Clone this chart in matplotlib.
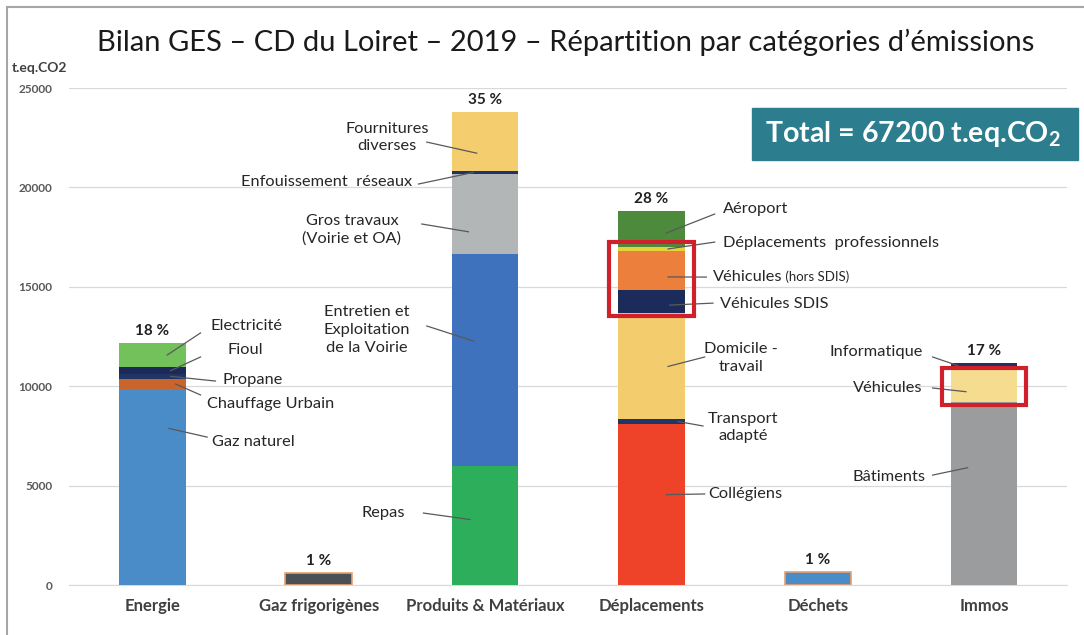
import matplotlib.pyplot as plt
from matplotlib.patches import Rectangle

plt.rcParams['font.family'] = ['Lato', 'DejaVu Sans']
plt.rcParams['mathtext.fontset'] = 'custom'
plt.rcParams['mathtext.rm'] = 'Lato'

# --- data (t.eq.CO2), stacked from bottom to top ---
categories = ['Energie', 'Gaz frigorigènes', 'Produits & Matériaux',
              'Déplacements', 'Déchets', 'Immos']
percents = ['18 %', '1 %', '35 %', '28 %', '1 %', '17 %']

energie_labels = ['Gaz naturel', 'Chauffage Urbain', 'Propane', 'Fioul', 'Electricité']
energie_values = [9850, 530, 230, 340, 1240]

frigo_labels = ['Gaz frigorigènes']
frigo_values = [600]

produits_labels = ['Repas', 'Entretien et\nExploitation\nde la Voirie',
                   'Gros travaux\n(Voirie et OA)', 'Enfouissement  réseaux',
                   'Fournitures\ndiverses']
produits_values = [5990, 10650, 4030, 170, 2940]

depl_labels = ['Collégiens', 'Transport\nadapté', 'Domicile -\ntravail',
               'Véhicules SDIS', 'Véhicules', 'Déplacements  professionnels',
               'Aéroport']
depl_values = [8120, 210, 5330, 1200, 1930, 230, 1810]

dechets_labels = ['Déchets']
dechets_values = [640]

immos_labels = ['Bâtiments', 'Véhicules', 'Informatique']
immos_values = [9220, 1680, 280]

total = 67200

# colours per segment
energie_colors = ['#4A8CC8', '#C9652A', '#1F3566', '#1B2A58', '#72C15B']
frigo_colors = ['#4B5056']
produits_colors = ['#2DAE5B', '#3F72BC', '#B3B6B7', '#1F3566', '#F4CD6F']
depl_colors = ['#EE4329', '#1F3566', '#F3CC6D', '#1C2C5A', '#EC7F3C', '#E4D43C', '#4E8A3B']
dechets_colors = ['#4A8CC8']
immos_colors = ['#9A9C9D', '#F5DC8F', '#1F3064']

stacks = [
    (energie_labels, energie_values, energie_colors),
    (frigo_labels, frigo_values, frigo_colors),
    (produits_labels, produits_values, produits_colors),
    (depl_labels, depl_values, depl_colors),
    (dechets_labels, dechets_values, dechets_colors),
    (immos_labels, immos_values, immos_colors),
]

# label layout: (category, segment index, text dx, text y, ha, line-end dx, line-end y, bar dx, frac in segment)
label_layout = [
    (0, 4, 0.35, 13030, 'left', 0.29, 12680, 0.09, 0.5),
    (0, 3, 0.45, 11820, 'left', 0.29, 11470, 0.11, 0.5),
    (0, 2, 0.42, 10310, 'left', 0.38, 10260, 0.11, 0.5),
    (0, 1, 0.33, 9100, 'left', 0.29, 9560, 0.14, 0.5),
    (0, 0, 0.36, 7190, 'left', 0.33, 7440, 0.10, 0.8),
    (2, 4, -0.59, 22510, 'center', -0.35, 22280, -0.05, 0.3),
    (2, 3, -0.44, 20270, 'right', -0.40, 20170, -0.07, 0.5),
    (2, 2, -0.80, 17860, 'center', -0.38, 18160, -0.10, 0.28),
    (2, 1, -0.97, 12830, 'left', -0.35, 13030, -0.07, 0.59),
    (2, 0, -0.61, 3620, 'center', -0.37, 3620, -0.09, 0.55),
    (3, 6, 0.43, 18910, 'left', 0.38, 18660, 0.09, 0.38),
    (3, 5, 0.43, 17200, 'left', 0.38, 17250, 0.10, 0.5),
    (3, 4, 0.37, 15490, 'left', 0.33, 15490, 0.10, 0.33),
    (3, 3, 0.41, 14130, 'left', 0.37, 14180, 0.11, 0.35),
    (3, 2, 0.54, 11420, 'center', 0.32, 11470, 0.10, 0.5),
    (3, 1, 0.55, 7920, 'center', 0.31, 8000, 0.16, 0.5),
    (3, 0, 0.34, 4580, 'left', 0.32, 4580, 0.09, 0.56),
    (5, 2, -0.37, 11720, 'right', -0.31, 11470, -0.16, 0.5),
    (5, 1, -0.37, 9910, 'right', -0.31, 9910, -0.11, 0.3),
    (5, 0, -0.35, 5430, 'right', -0.31, 5530, -0.10, 0.64),
]

fig = plt.figure(figsize=(10.84, 6.35), dpi=100)
ax = fig.add_axes([0.0637, 0.0787, 0.921, 0.7827])

width = 0.40
tops = []
bottoms_all = []
for i, (labels, values, colors) in enumerate(stacks):
    bottom = 0
    bots = []
    for v, c in zip(values, colors):
        edge = '#E8A070' if i in (1, 4) else 'none'
        ax.bar(i, v, width, bottom=bottom, color=c, edgecolor=edge,
               linewidth=1.2 if edge != 'none' else 0, zorder=3)
        bots.append(bottom)
        bottom += v
    tops.append(bottom)
    bottoms_all.append(bots)

# percent labels
for i, p in enumerate(percents):
    ax.text(i, tops[i] + 250, p, ha='center', va='bottom', fontsize=11,
            fontweight='bold', color='#222222')

# segment labels with leader lines
fs = 11.8
for cat, seg, tdx, ty, ha, ldx, ly, bdx, frac in label_layout:
    labels, values, _ = stacks[cat]
    yb = bottoms_all[cat][seg] + values[seg] * frac
    ax.plot([cat + bdx, cat + ldx], [yb, ly], color='#595959', lw=0.9, zorder=4)
    txt = labels[seg]
    if cat == 3 and seg == 4:
        t = ax.text(cat + tdx, ty, txt, ha='left', va='center', fontsize=fs,
                    color='#262626', zorder=5)
        ax.annotate(' (hors SDIS)', xycoords=t, xy=(1, 0.5), va='center',
                    fontsize=9.5, color='#262626')
    else:
        ax.text(cat + tdx, ty, txt, ha=ha, va='center', fontsize=fs,
                color='#262626', linespacing=1.35, multialignment='center', zorder=5)

ax.set_xlim(-0.5, 5.5)
ax.set_ylim(0, 25000)
ax.set_yticks(range(0, 25001, 5000))
ax.set_xticks(range(len(categories)))
ax.set_xticklabels(categories, fontsize=12, fontweight='bold', color='#404040')
ax.tick_params(axis='both', length=0)
ax.tick_params(axis='y', labelsize=8.5, labelcolor='#595959', pad=12)
for lbl in ax.get_yticklabels():
    lbl.set_fontweight('bold')
ax.tick_params(axis='x', pad=9)
ax.grid(axis='y', color='#D9D9D9', lw=0.9, zorder=0)
for s in ['top', 'right', 'left']:
    ax.spines[s].set_visible(False)
ax.spines['bottom'].set_color('#D9D9D9')

# red highlight boxes
ax.add_patch(Rectangle((3 - 0.253, 13530), 0.506, 3720, fill=False, ec='#D0202A',
                       lw=3, zorder=6, clip_on=False))
ax.add_patch(Rectangle((5 - 0.253, 9050), 0.506, 1865, fill=False, ec='#D0202A',
                       lw=3, zorder=6, clip_on=False))

# titles and text
fig.text(0.522, 0.934, 'Bilan GES – CD du Loiret – 2019 – Répartition par catégories d’émissions',
         ha='center', va='center', fontsize=21, color='#1a1a1a')
fig.text(0.011, 0.893, 't.eq.CO2', ha='left', va='center', fontsize=10,
         fontweight='bold', color='#404040')

fig.patches.append(Rectangle((752 / 1084, 1 - 160 / 635), 326 / 1084, 52 / 635,
                             transform=fig.transFigure, color='#2C7E8E'))
fig.text(913 / 1084, 1 - 134 / 635, r'Total = %d t.eq.CO$_{\mathregular{2}}$' % total,
         ha='center', va='center', fontsize=20.5, fontweight='bold', color='white')

# outer frame
fig.patches.append(Rectangle((7 / 1084, -0.05), 1.1, 1 - 7 / 635 + 0.05,
                             transform=fig.transFigure, fill=False,
                             ec='#A6A6A6', lw=1.5))

fig.savefig('out.png', dpi=100)
